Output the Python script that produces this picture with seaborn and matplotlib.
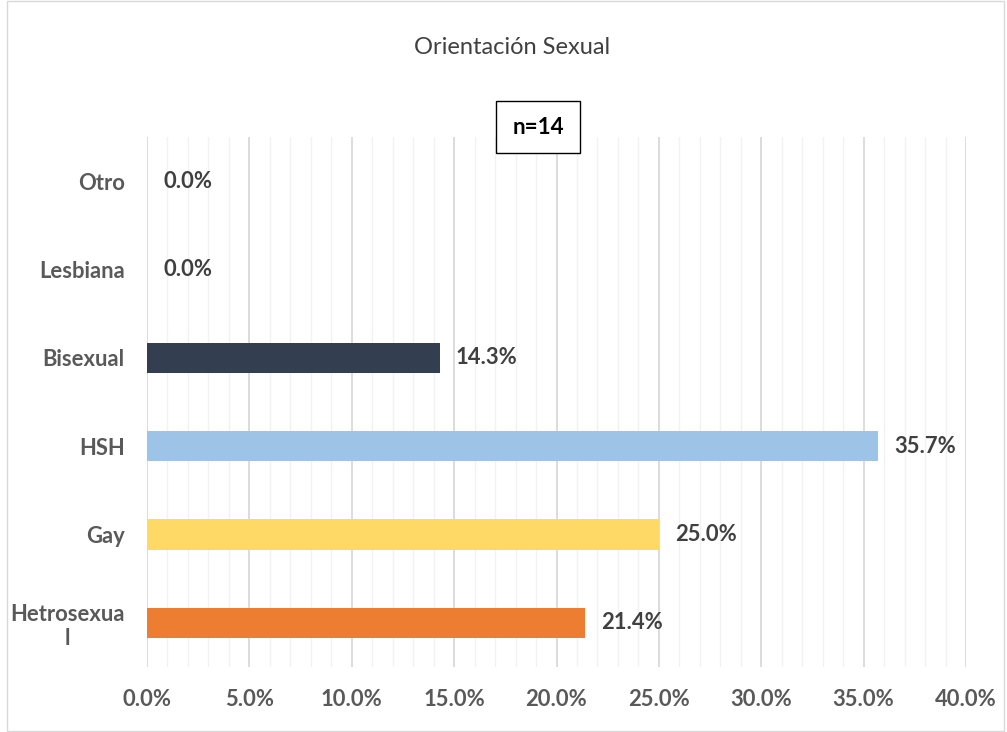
import matplotlib
matplotlib.use("Agg")
import matplotlib.pyplot as plt
import seaborn as sns
import pandas as pd
from matplotlib.ticker import MultipleLocator, FuncFormatter
from matplotlib.patches import Rectangle

categories = ["Otro", "Lesbiana", "Bisexual", "HSH", "Gay", "Hetrosexua\nl"]
values = [0.0, 0.0, 14.3, 35.7, 25.0, 21.4]
colors = ["#333F50", "#333F50", "#333F50", "#9DC3E6", "#FFD966", "#ED7D31"]
title = "Orientación Sexual"
n_label = "n=14"

sns.set_theme(style="white")
plt.rcParams['font.family'] = ['Lato', 'DejaVu Sans']

df = pd.DataFrame({"cat": categories, "val": values})

fig = plt.figure(figsize=(10.07, 7.32), dpi=100)
ax = fig.add_axes([147/1007, 1 - 667/732, (966-147)/1007, (667-137)/732])

sns.barplot(data=df, x="val", y="cat", hue="cat", palette=colors, legend=False,
            orient="h", width=0.34, ax=ax, saturation=1, linewidth=0)

ax.set_xlim(0, 40)
ax.set_ylim(5.5, -0.5)
ax.xaxis.set_major_locator(MultipleLocator(5))
ax.xaxis.set_minor_locator(MultipleLocator(1))
ax.xaxis.set_major_formatter(FuncFormatter(lambda v, p: f"{v:.1f}%"))
ax.grid(True, axis="x", which="major", color="#D9D9D9", linewidth=1.3)
ax.grid(True, axis="x", which="minor", color="#F2F2F2", linewidth=1.0)
ax.grid(False, axis="y")
ax.set_axisbelow(True)
for s in ax.spines.values():
    s.set_visible(False)
ax.set_xlabel("")
ax.set_ylabel("")
ax.tick_params(axis="x", which="both", length=0, pad=16, labelsize=15.8, labelcolor="#595959")
ax.tick_params(axis="y", length=0, pad=16, labelsize=15.8, labelcolor="#595959")
for lbl in ax.get_xticklabels() + ax.get_yticklabels():
    lbl.set_fontweight("bold")
for lbl in ax.get_yticklabels():
    lbl.set_horizontalalignment("right")
    lbl.set_multialignment("center")

for i, v in enumerate(values):
    ax.annotate(f"{v:.1f}%", xy=(v, i), xytext=(16, 0), textcoords="offset pixels",
                ha="left", va="center", fontsize=15.8, fontweight="bold", color="#404040")

fig.text(512/1007, 1 - 47/732, title, ha="center", va="center", fontsize=17, color="#404040")
fig.text(538/1007, 1 - 127/732, n_label, ha="center", va="center", fontsize=16.2,
         fontweight="bold", color="black",
         bbox=dict(boxstyle="square,pad=0.7", facecolor="white", edgecolor="black", linewidth=1.0))

fig.patches.append(Rectangle((7/1007, 0.002), (1004-7)/1007, 0.996, transform=fig.transFigure,
                             fill=False, edgecolor="#D9D9D9", linewidth=1.0))

fig.savefig("out.png", dpi=100)
